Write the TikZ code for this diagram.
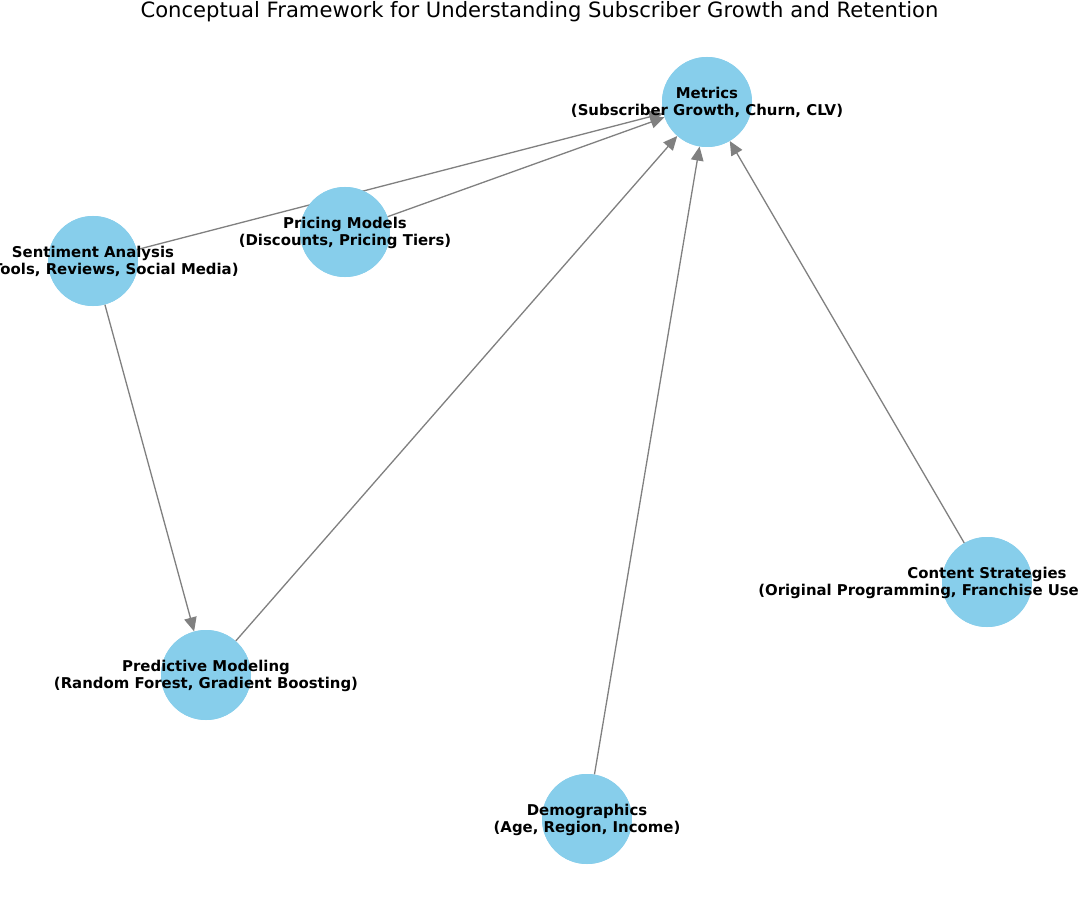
\documentclass[tikz,border=0pt]{standalone}
\usepackage{fontspec}
\setmainfont{DejaVu Sans}
\usetikzlibrary{arrows.meta}
\definecolor{skyblue}{HTML}{87CEEB}
\definecolor{edgegray}{HTML}{808080}
\tikzset{
  vertex/.style={circle, fill=skyblue, draw=none, minimum size=90pt, inner sep=0pt},
  lbl/.style={font=\fontsize{14.9}{17.1}\selectfont\bfseries, align=center, inner sep=0pt, text=black},
  link/.style={draw=edgegray, line width=1.3pt, -{Triangle[length=14pt,width=12.5pt]}},
  ttl/.style={font=\fontsize{21.1}{24}\selectfont, inner sep=0pt}
}
\begin{document}
\begin{tikzpicture}[x=1pt,y=-1pt]
\useasboundingbox (0,0) rectangle (1083,901);
\clip (0,0) rectangle (1083,901);
\fill[white] (0,0) rectangle (1083,901);
% nodes
\node[vertex] (met) at (707,102) {};
\node[vertex] (pri) at (345,232) {};
\node[vertex] (sen) at (93,261) {};
\node[vertex] (pre) at (206,675) {};
\node[vertex] (dem) at (587,819) {};
\node[vertex] (con) at (987,582) {};
% edges
\path[link] (sen) -- (met);
\path[link] (pri) -- (met);
\path[link] (sen) -- (pre);
\path[link] (pre) -- (met);
\path[link] (dem) -- (met);
\path[link] (con) -- (met);
% circles over edges
\fill[skyblue] (met) circle (45);
\fill[skyblue] (pri) circle (45);
\fill[skyblue] (sen) circle (45);
\fill[skyblue] (pre) circle (45);
\fill[skyblue] (dem) circle (45);
\fill[skyblue] (con) circle (45);
% labels
\node[lbl] (metL) at (707,102.5) {Metrics\\(Subscriber Growth, Churn, CLV)};
\node[lbl] (priL) at (345,232.5) {Pricing Models\\(Discounts, Pricing Tiers)};
\node[lbl] (senL) at (93,261.5) {Sentiment Analysis\\(NLP Tools, Reviews, Social Media)};
\node[lbl] (preL) at (206,675.5) {Predictive Modeling\\(Random Forest, Gradient Boosting)};
\node[lbl] (demL) at (587,819.5) {Demographics\\(Age, Region, Income)};
\node[lbl] (conL) at (987,582.5) {Content Strategies\\\makebox[30.7em][l]{(Original Programming, Franchise Use}};
% title
\node[ttl] (title) at (539.5,12) {Conceptual Framework for Understanding Subscriber Growth and Retention};
\end{tikzpicture}
\end{document}
